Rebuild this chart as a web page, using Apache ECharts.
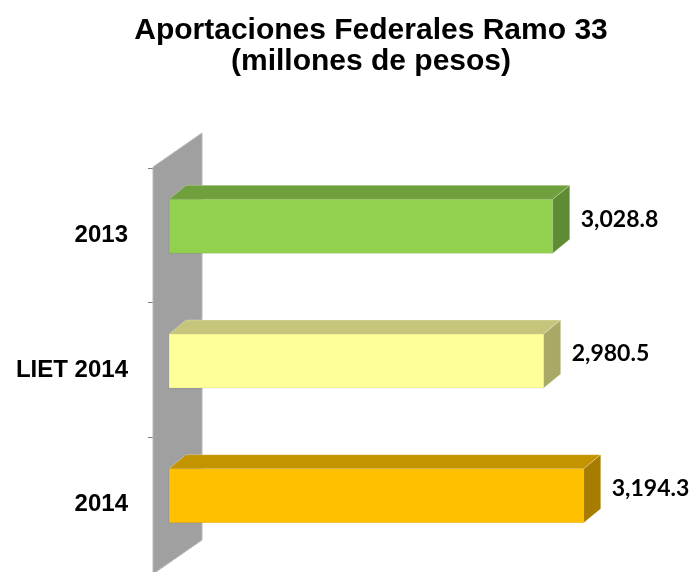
<!DOCTYPE html>
<html>
<head>
<meta charset="utf-8">
<script src="https://cdn.jsdelivr.net/npm/echarts@6/dist/echarts.min.js"></script>
<style>html,body{margin:0;padding:0;background:#fff;}#c{width:692px;height:572px;}</style>
</head>
<body>
<div id="c"></div>
<script>
const categories = ['2013', 'LIET 2014', '2014'];
const values = [3028.8, 2980.5, 3194.3];
const titleText = 'Aportaciones Federales Ramo 33\n(millones de pesos)';
const frontColors = ['#92D050', '#FFFF99', '#FFC000'];
const topColors = ['#70A03D', '#C5C57B', '#C49400'];
const sideColors = ['#5F8B34', '#A9A966', '#A67D00'];

const AXIS_MIN = 900, AXIS_MAX = 3500;
const chart = echarts.init(document.getElementById('c'));

function fmt(v) {
  return v.toLocaleString('en-US', { minimumFractionDigits: 1, maximumFractionDigits: 1 });
}

const wallItem = function (params, api) {
  const cs = params.coordSys;
  const x = cs.x - 1, top = cs.y - 1, bot = cs.y + cs.height + 2;
  const w = 49, d = 34;
  return {
    type: 'polygon',
    shape: { points: [[x, top], [x + w, top - d], [x + w, bot - d], [x, bot]] },
    style: { fill: '#A0A0A0', stroke: '#B8B8B8', lineWidth: 1 }
  };
};

const barItem = function (params, api) {
  const idx = params.dataIndex;
  const v = api.value(0), c = api.value(1);
  const end = api.coord([v, c]);
  const start = api.coord([AXIS_MIN, c]);
  const x0 = start[0] + 15, x1 = end[0];
  const yc = end[1] - 9, h = 54;
  const yT = yc - h / 2, yB = yc + h / 2;
  const dx = 17, dy = 14;
  return {
    type: 'group',
    children: [
      { type: 'polygon', shape: { points: [[x0, yT], [x0 + dx, yT - dy], [x1 + dx, yT - dy], [x1, yT]] },
        style: { fill: topColors[idx], stroke: 'rgba(255,255,255,0.25)', lineWidth: 1 } },
      { type: 'polygon', shape: { points: [[x1, yT], [x1 + dx, yT - dy], [x1 + dx, yB - dy], [x1, yB]] },
        style: { fill: sideColors[idx], stroke: 'rgba(255,255,255,0.25)', lineWidth: 1 } },
      { type: 'rect', shape: { x: x0, y: yT, width: x1 - x0, height: h },
        style: { fill: frontColors[idx], stroke: 'rgba(0,0,0,0.08)', lineWidth: 1 } },
      { type: 'text', x: x1 + dx + 11, y: yc - dy / 2,
        style: { text: fmt(v), fill: '#000', font: 'bold 23px Lato', textAlign: 'left', textVerticalAlign: 'middle' } }
    ]
  };
};

chart.setOption({
  animation: false,
  backgroundColor: '#fff',
  title: {
    text: titleText,
    left: 366,
    textAlign: 'center',
    top: 10,
    textStyle: { fontFamily: 'Liberation Sans', fontWeight: 'bold', fontSize: 30, lineHeight: 31, color: '#000' }
  },
  grid: { left: 154, width: 487, top: 168, height: 404, containLabel: false },
  xAxis: { type: 'value', min: AXIS_MIN, max: AXIS_MAX, show: false },
  yAxis: {
    type: 'category',
    data: categories,
    inverse: true,
    axisLine: { show: true, lineStyle: { color: '#A8A8A8', width: 1 } },
    axisTick: { show: true, length: 6, lineStyle: { color: '#7F7F7F' } },
    axisLabel: { margin: 26, fontFamily: 'Liberation Sans', fontWeight: 'bold', fontSize: 24, color: '#000', padding: [4, 0, 0, 0] },
    splitLine: { show: false }
  },
  series: [
    { type: 'custom', z: 1, renderItem: wallItem, data: [[AXIS_MIN, 0]], encode: { x: 0, y: 1 }, silent: true, clip: false },
    { type: 'custom', z: 2, renderItem: barItem, data: values.map((v, i) => [v, i]), encode: { x: 0, y: 1 }, clip: false }
  ]
});
</script>
</body>
</html>
